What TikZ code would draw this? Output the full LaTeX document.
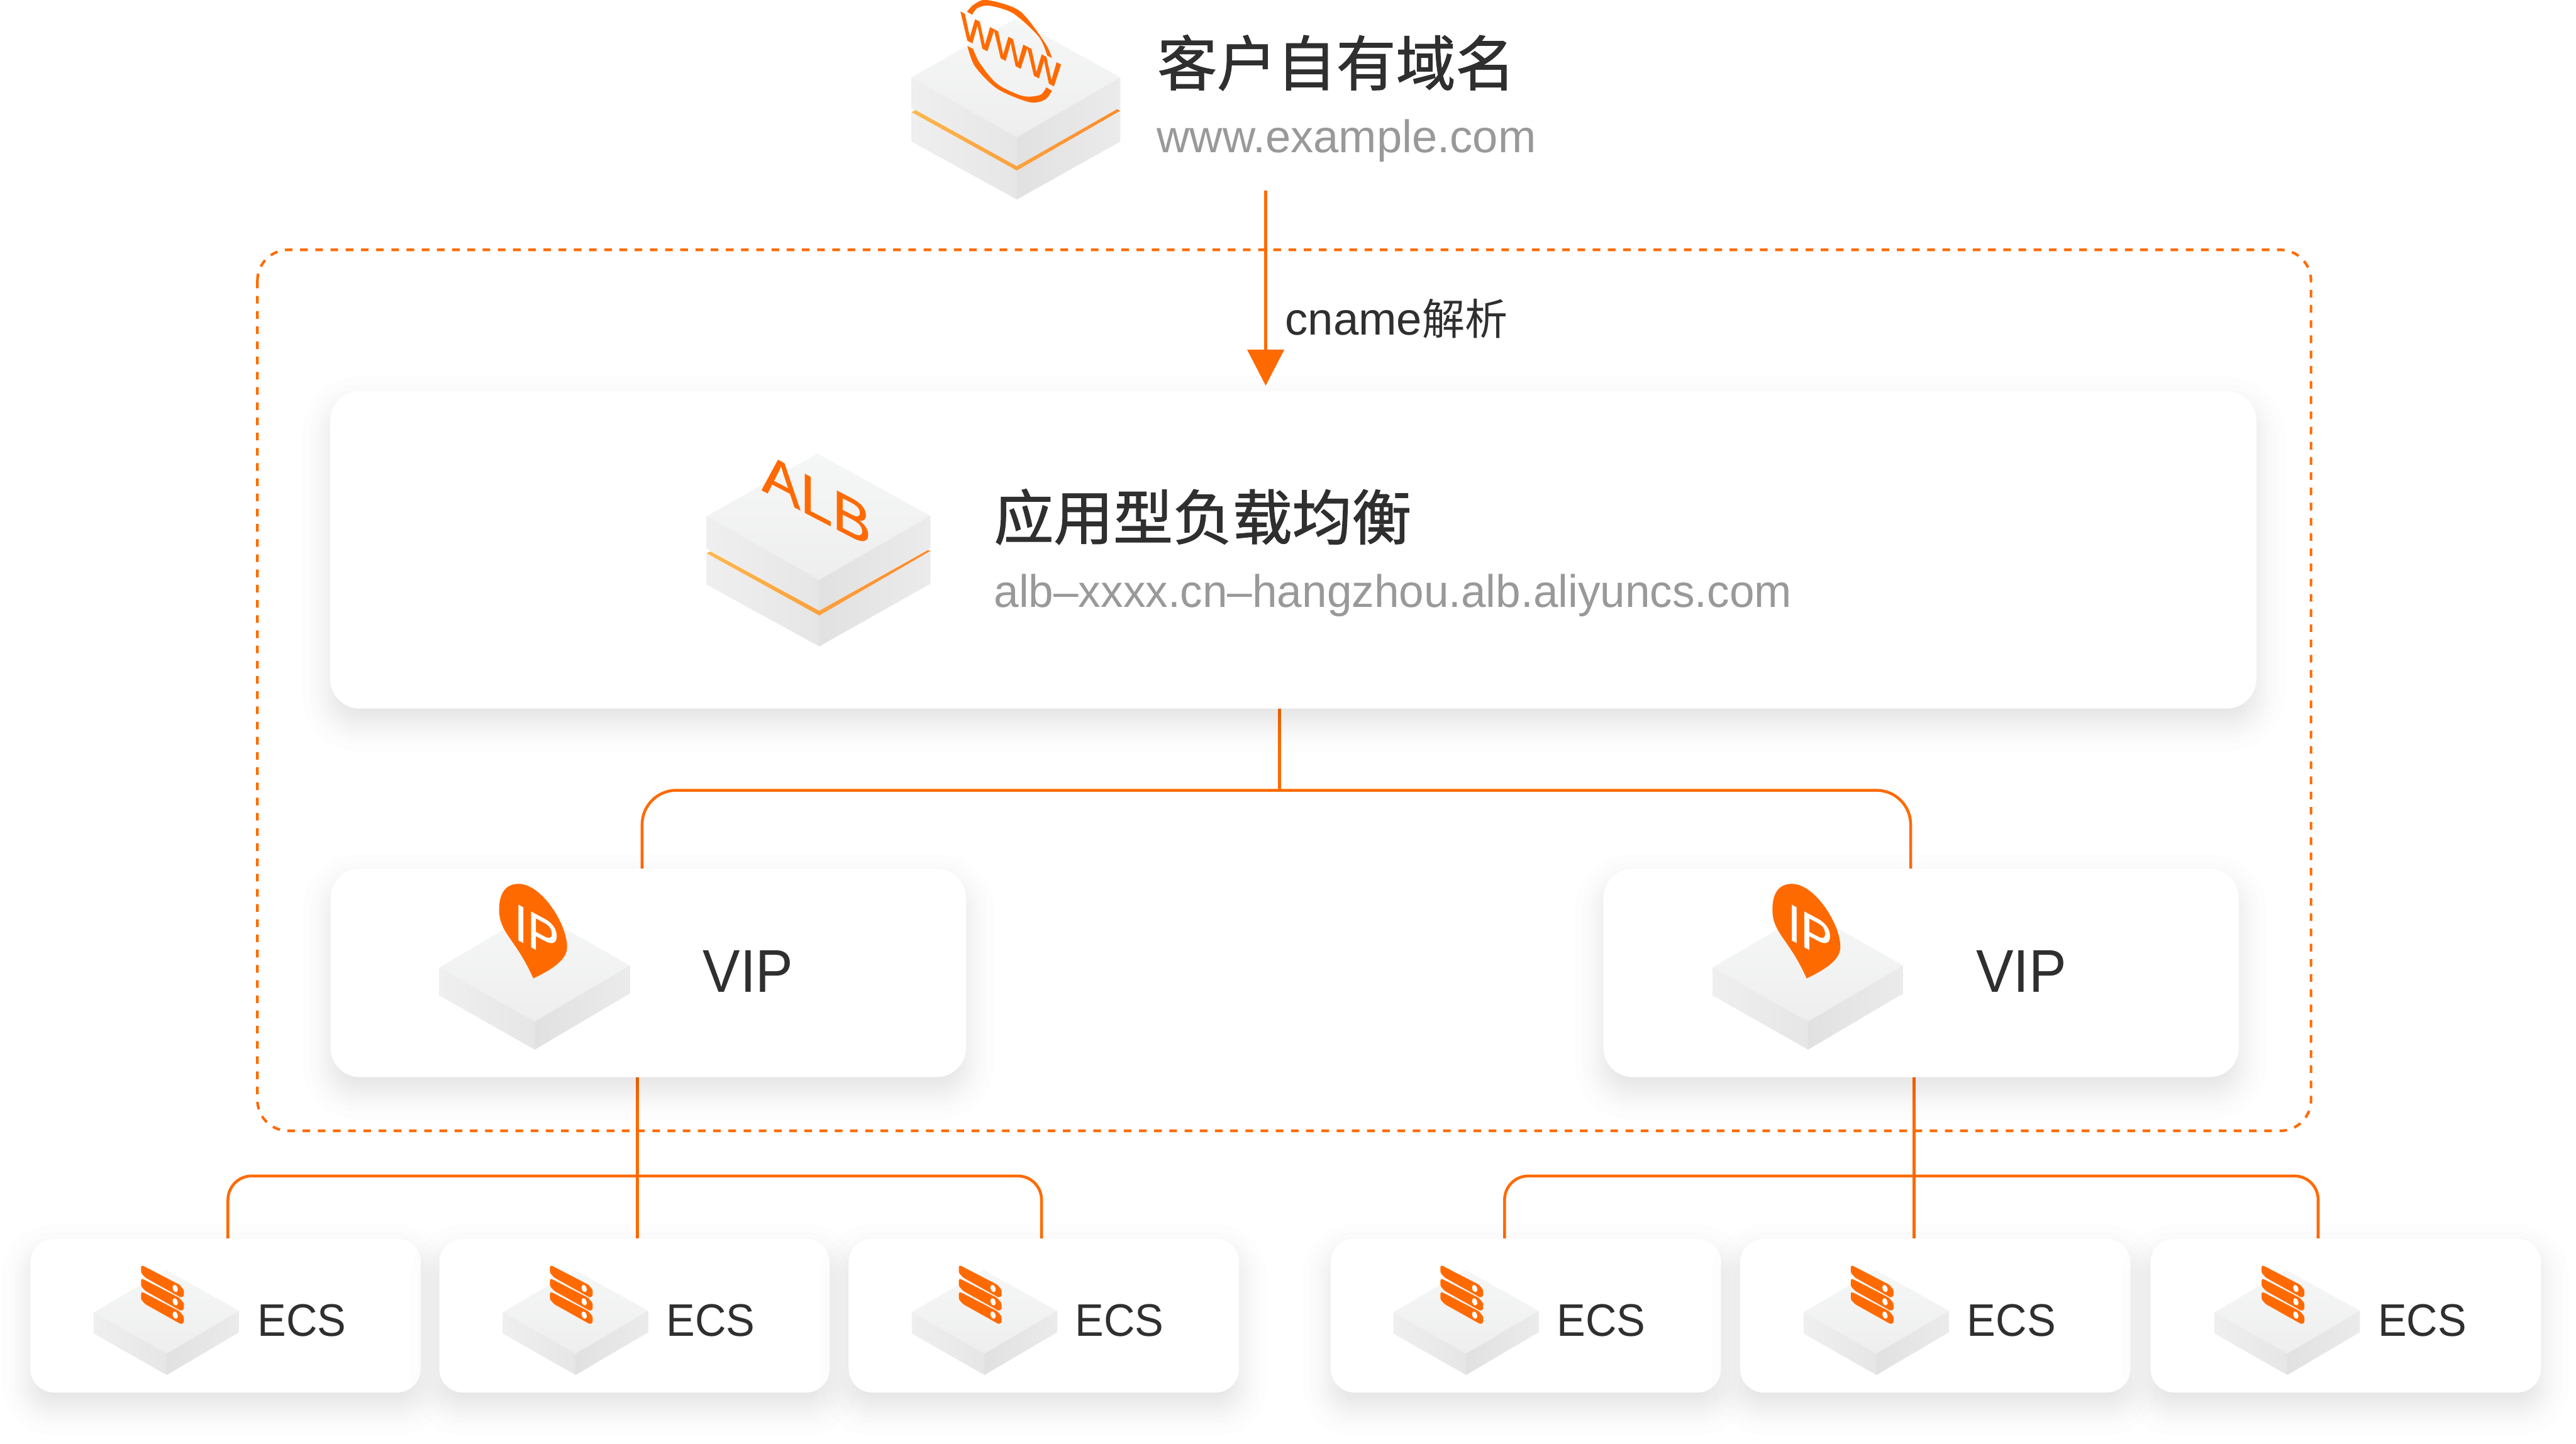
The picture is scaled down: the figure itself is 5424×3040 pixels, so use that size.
\documentclass[tikz,border=0pt]{standalone}
\usepackage{graphicx}
\usepackage{fontspec}
\setmainfont{Liberation Sans}
\newfontfamily\cjk{Noto Sans CJK SC}
\newfontfamily\cjkb[FakeBold=1.2]{Noto Sans CJK SC}
\newfontfamily\markf[FakeBold=0.9]{Liberation Sans}
\usetikzlibrary{arrows.meta}
\pgfdeclarelayer{back}
\pgfsetlayers{back,main}
\definecolor{ali}{HTML}{FF6A00}
\definecolor{inkd}{HTML}{2F2F2F}
\definecolor{inkg}{HTML}{999999}
\newcommand\fsz[1]{\pgfmathsetmacro\fszv{#1*0.28453}\fontsize{\fszv}{\fszv}\selectfont}
\definecolor{faceT}{HTML}{F5F7F6}
\definecolor{faceU}{HTML}{EEEEEE}
\definecolor{faceA}{HTML}{EFEFEF}
\definecolor{faceB}{HTML}{E6E6E6}
\definecolor{faceC}{HTML}{E1E1E1}
\definecolor{faceD}{HTML}{EBEBEB}
\definecolor{bandA}{HTML}{FCB84F}
\definecolor{bandB}{HTML}{FB9732}
\definecolor{bandC}{HTML}{FD8A2A}
\tikzset{
  txt/.style={inner sep=0pt,outer sep=0pt,anchor=base west},
  conn/.style={draw=ali,line width=0.06cm},
  topface/.style={top color=faceT,bottom color=faceU},
  leftface/.style={left color=faceA,right color=faceB},
  rightface/.style={left color=faceC,right color=faceD},
  bandfill/.style={left color=bandA,middle color=bandB,right color=bandC},
}
% card: name x1 y1 x2 y2 r
\newcommand\card[6]{%
  \foreach \ee in {60,44,33,25,18,12,6,0,-6,-12,-18,-25,-33,-44,-60}{%
    \pgfmathsetmacro\rr{max(#6+\ee,2)*0.28453}%
    \fill[black,fill opacity=0.008,rounded corners=\rr pt]
      ({(#2)-(\ee)},{(#3)+30-(\ee)}) rectangle ({(#4)+(\ee)},{(#5)+30+(\ee)});
  }%
  \pgfmathsetmacro\cw{(#4)-(#2)}%
  \pgfmathsetmacro\ch{(#5)-(#3)}%
  \pgfmathsetmacro\rr{#6*0.28453}%
  \node (#1) [fill=white,inner sep=0pt,outer sep=0pt,rounded corners=\rr pt,
     minimum width=\cw*0.01cm,minimum height=\ch*0.01cm] at ({((#2)+(#4))/2},{((#3)+(#5))/2}) {};
}
% flat slab: lx ly ax ay fx fy rx ry h
\newcommand\slab[9]{%
  \shade[topface] (#1,#2)--(#3,#4)--(#7,#8)--(#5,#6)--cycle;
  \shade[leftface] (#1,#2)--(#5,#6)--(#5,{#6+#9})--(#1,{#2+#9})--cycle;
  \shade[rightface] (#5,#6)--(#7,#8)--(#7,{#8+#9})--(#5,{#6+#9})--cycle;
}
% slanted text: name x y slope xscale size colour text
\newcommand\slanted[8]{%
  \begin{scope}[shift={(#2,#3)},yslant=-#4,xscale=#5]
    \node (#1) [txt,transform shape,text=#7] at (0,0) {\markf\fsz{#6}#8};
  \end{scope}%
}
\newcommand\ecsbar[1]{%
  \fill[ali,rounded corners=0.03cm] (301,{2665+#1})--(378,{2705+#1})--(387,{2716+#1})--(387,{2729+#1})--(381,{2732+#1})--(306,{2690+#1})--(297,{2680+#1})--(297,{2665+#1})--cycle;
  \fill[white,shift={(369,{2713+#1})},rotate=20] (0,0) ellipse [x radius=5,y radius=8];
}
\begin{document}
\begin{tikzpicture}[x=0.01cm,y=-0.01cm]
\useasboundingbox (0,0) rectangle (5424,3040);
\begin{pgfonlayer}{back}
  \fill[white] (0,0) rectangle (5424,3040);
  \draw[draw=ali,line width=0.055cm,dash pattern=on 0.16cm off 0.16cm,rounded corners=0.65cm]
     (542,526) rectangle (4866,2381);
\end{pgfonlayer}

% cards
\card{alb}{695}{823}{4751}{1492}{63}
\card{vipa}{696}{1829}{2034}{2268}{62}
\card{vipb}{3376}{1829}{4714}{2268}{62}
\foreach \o/\n in {0/a,861/b,1723/c,2738/d,3600/e,4464/f}{
  \card{ecs\n}{64+\o}{2608}{886+\o}{2932}{50}
}

% connectors
\coordinate (arrowstart) at (2665,401);
\coordinate (busmain) at (2694,1664);
\coordinate (busl) at (1352,1664);
\coordinate (busr) at (4023,1664);
\coordinate (b1l) at (480,2476);
\coordinate (b1c) at (1342,2476);
\coordinate (b1r) at (2193,2476);
\coordinate (b2l) at (3168,2476);
\coordinate (b2c) at (4030,2476);
\coordinate (b2r) at (4881,2476);
\begin{pgfonlayer}{back}
  \draw[conn] (alb.south -| busmain) -- (busmain);
  \draw[conn,rounded corners=0.72cm] (vipa.north -| busl) -- (busl) -- (busr) -- (vipb.north -| busr);
  \draw[conn] (vipa.south -| b1c) -- (ecsb.north -| b1c);
  \draw[conn] (vipb.south -| b2c) -- (ecse.north -| b2c);
  \draw[conn,rounded corners=0.5cm] (ecsa.north -| b1l) -- (b1l) -- (b1r) -- (ecsc.north -| b1r);
  \draw[conn,rounded corners=0.5cm] (ecsd.north -| b2l) -- (b2l) -- (b2r) -- (ecsf.north -| b2r);
\end{pgfonlayer}
\draw[conn,shorten >=0.11cm,-{Triangle[length=0.76cm,width=0.77cm,fill=ali]}] (arrowstart) -- (arrowstart |- alb.north);

% www icon
\shade[topface] (1919,163)--(2137,40)--(2359,163)--(2141,289)--cycle;
\shade[leftface] (1919,163)--(2141,289)--(2141,350)--(1919,229)--cycle;
\shade[rightface] (2141,289)--(2359,163)--(2359,229)--(2141,350)--cycle;
\shade[leftface] (1919,236)--(2141,359)--(2141,420)--(1919,298)--cycle;
\shade[rightface] (2141,359)--(2359,233)--(2359,298)--(2141,420)--cycle;
\shade[bandfill] (1919,236)--(1928,232)--(2141,350)--(2352,230)--(2359,233)--(2141,359)--cycle;
\fill[ali] plot[smooth] coordinates {(2036,25)(2050,10)(2078,0)(2147,23)(2200,90)(2215,122)}
   -- plot[smooth] coordinates {(2205,117)(2187,77)(2133,28)(2083,12)(2058,17)(2047,31)} -- cycle;
\fill[ali] plot[smooth] coordinates {(2037,97)(2053,140)(2100,187)(2167,215)(2200,210)(2215,191)}
   -- plot[smooth] coordinates {(2203,184)(2190,200)(2153,202)(2100,177)(2063,133)(2049,103)} -- cycle;
\slanted{wwwmark}{2023}{78}{0.527}{0.97}{100}{ali}{www}

% domain text
\node (domainT) [txt,text=inkd] at (2437,180) {\cjkb\fsz{125.5}客户自有域名};
\node (domainS) [txt,text=inkg] at (2436,321) {\fsz{96}\scalebox{0.997}[1]{www.example.com}};
\node (cnameL) [txt,text=inkd] at (2706,705) {\fsz{96}cname{\cjk\fsz{90}解析}};

% ALB icon
\shade[topface] (1488,1087)--(1721,955)--(1959,1086)--(1725,1221)--cycle;
\shade[leftface] (1488,1087)--(1725,1221)--(1725,1286)--(1488,1155)--cycle;
\shade[rightface] (1725,1221)--(1959,1086)--(1959,1154)--(1725,1286)--cycle;
\shade[leftface] (1488,1165)--(1725,1296)--(1725,1361)--(1488,1231)--cycle;
\shade[rightface] (1725,1296)--(1959,1160)--(1959,1229)--(1725,1361)--cycle;
\shade[bandfill] (1488,1165)--(1496,1161)--(1725,1286)--(1954,1158)--(1959,1160)--(1725,1296)--cycle;
\slanted{albmark}{1604}{1032}{0.522}{1.03}{118}{ali}{ALB}
\node (albT) [txt,text=inkd] at (2093,1136) {\cjkb\fsz{125.5}应用型负载均衡};
\node (albS) [txt,text=inkg] at (2093,1278) {\fsz{96}\scalebox{0.98}[1]{alb–xxxx.cn–hangzhou.alb.aliyuncs.com}};

% VIP
\foreach \o/\n in {0/a,2681/b}{
  \begin{scope}[shift={(\o,0)}]
    \slab{925}{2037}{1126}{1919}{1126}{2151}{1326}{2033}{59}
    \fill[ali] (1123,2060) .. controls (1085,1975) and (1051,1965) .. (1051,1915)
       .. controls (1051,1880) and (1065,1861) .. (1092,1861)
       .. controls (1140,1861) and (1194,1945) .. (1194,1994)
       .. controls (1194,2020) and (1165,2040) .. (1123,2060) -- cycle;
    \slanted{ipmark\n}{1083}{1975}{0.54}{0.92}{108}{white}{IP}
    \node (viptext\n) [txt,text=inkd] at (1480,2089) {\fsz{127}\scalebox{0.93}[1]{VIP}};
  \end{scope}
}

% ECS
\foreach \o/\n in {0/a,861/b,1722/c,2736/d,3600/e,4465/f}{
  \begin{scope}[shift={(\o,0)}]
    \slab{198}{2763}{349}{2674}{351}{2850}{504}{2760}{45}
    \ecsbar{0}
    \ecsbar{28}
    \ecsbar{56}
    \node (ecstext\n) [txt,text=inkd] at (542,2813) {\fsz{96}\scalebox{0.945}[1]{ECS}};
  \end{scope}
}
\end{tikzpicture}
\end{document}
